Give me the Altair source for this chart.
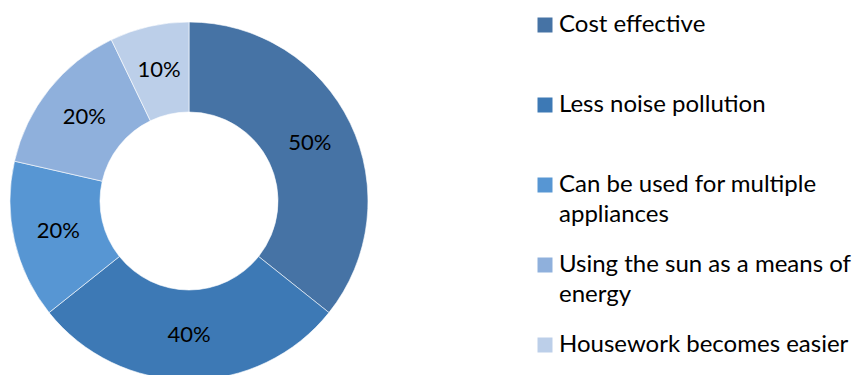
import altair as alt
import pandas as pd

categories = ["Cost effective", "Less noise pollution",
              "Can be used for multiple appliances",
              "Using the sun as a means of energy",
              "Housework becomes easier"]
legend_labels = ["Cost effective", "Less noise pollution",
                 "Can be used for multiple|appliances",
                 "Using the sun as a means of|energy",
                 "Housework becomes easier"]
values = [50, 40, 20, 20, 10]
pct_labels = ["50%", "40%", "20%", "20%", "10%"]
colors = ["#4673a5", "#3d79b5", "#5796d3", "#8fb0dc", "#bccfe9"]

df = pd.DataFrame({
    "category": categories,
    "legend": legend_labels,
    "value": values,
    "label": pct_labels,
    "idx": list(range(len(categories))),
})

color = alt.Color("category:N", scale=alt.Scale(domain=categories, range=colors), legend=None)
cx, cy = 189, 201

base = alt.Chart(df)

arcs = base.mark_arc(innerRadius=89, outerRadius=179, stroke="white", strokeWidth=0.6).encode(
    theta=alt.Theta("value:Q", stack=True),
    order=alt.Order("idx:Q"),
    color=color,
    x=alt.value(cx), y=alt.value(cy),
)

labels = base.mark_text(radius=134, fontSize=22, font="Lato", color="black").encode(
    theta=alt.Theta("value:Q", stack=True),
    order=alt.Order("idx:Q"),
    text="label:N",
    x=alt.value(cx), y=alt.value(cy),
)

ypos = alt.Y("category:N", scale=alt.Scale(domain=categories, range=[25, 345], padding=0), axis=None)

swatch = base.mark_square(size=225, opacity=1).encode(
    x=alt.value(545),
    y=ypos,
    color=color,
)

leg_text = base.mark_text(align="left", baseline="middle", fontSize=24, font="Lato",
                          color="black", lineBreak="|", lineHeight=30, dy=0).encode(
    x=alt.value(559),
    y=ypos,
    text="legend:N",
)

chart = alt.layer(arcs, labels, swatch, leg_text).properties(
    width=863, height=375, padding=0,
    autosize=alt.AutoSizeParams(type="none"),
).configure_view(stroke=None)

chart.save("out.html", embed_options={"renderer": "svg", "actions": False})
